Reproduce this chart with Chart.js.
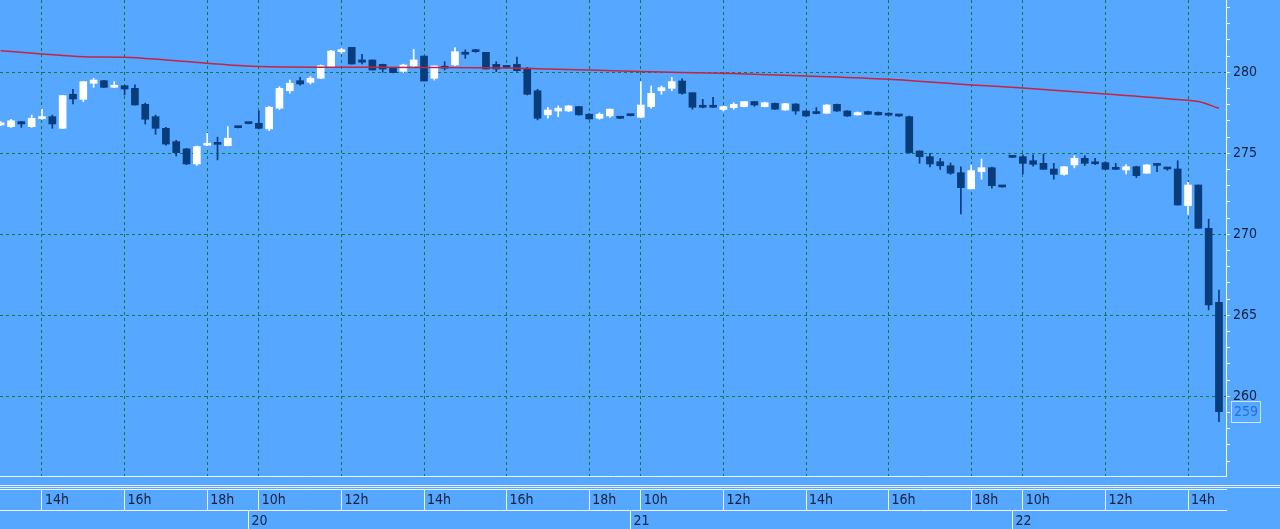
<!DOCTYPE html>
<html><head><meta charset="utf-8">
<script src="https://cdn.jsdelivr.net/npm/chart.js@4/dist/chart.umd.min.js"></script>
<style>
html,body{margin:0;padding:0;background:#55a7ff;overflow:hidden;}
#wrap{width:1280px;height:529px;position:relative;}
</style></head><body>
<div id="wrap"><canvas id="c"></canvas></div>
<script>
// ---- data (15-minute candles, slot index = position on the time axis) ----
const openP = [276.75,276.64,276.95,276.64,277.14,277.26,276.54,278.64,278.33,279.32,
279.48,279.07,279.17,279.01,278.02,277.26,276.54,275.72,275.27,274.34,
275.50,275.62,275.47,276.58,276.83,276.85,276.50,277.78,278.86,279.48,
279.38,279.63,280.35,281.27,281.54,280.76,280.76,280.49,280.28,280.06,
280.39,281.00,279.63,280.35,280.45,281.23,281.38,281.23,280.49,280.32,
280.49,280.25,278.86,277.37,277.61,277.61,277.88,277.41,277.16,277.30,
277.16,277.32,277.22,277.88,278.86,279.01,279.46,278.74,277.96,277.90,
277.70,277.82,277.88,278.19,277.88,278.08,277.67,278.04,277.61,277.55,
277.47,278.02,277.61,277.37,277.57,277.53,277.39,277.30,277.26,275.14,
274.79,274.48,274.23,273.80,272.80,273.87,274.11,272.92,274.75,274.79,
274.54,274.38,274.03,273.70,274.28,274.69,274.40,274.42,274.03,273.97,
274.17,273.77,274.34,274.07,274.03,271.77,273.04,270.37,265.80];
const highP = [276.95,277.10,276.97,277.36,277.72,277.36,278.58,278.95,279.42,279.63,
279.50,279.42,279.20,279.22,278.10,277.36,276.60,275.80,275.30,275.45,
276.23,275.99,276.64,276.60,276.85,277.61,277.90,279.10,279.52,279.69,
279.73,280.45,281.35,281.48,281.54,281.11,280.76,280.50,280.30,280.50,
281.42,281.00,280.40,280.65,281.52,281.38,281.42,281.23,280.65,280.34,
280.93,280.30,278.95,277.84,277.92,277.95,277.90,277.45,277.50,277.75,
277.18,277.34,279.42,279.15,279.15,279.69,279.59,278.74,278.33,278.46,
277.90,278.12,278.20,278.20,278.15,278.10,278.08,278.06,277.63,277.82,
278.00,278.04,277.63,277.55,277.60,277.55,277.50,277.32,277.30,275.15,
275.00,274.69,274.40,274.17,274.28,274.65,274.15,272.94,274.77,274.90,
274.90,274.96,274.38,274.20,274.85,274.85,274.69,274.48,274.38,274.30,
274.20,274.30,274.36,274.08,274.54,273.20,273.04,270.93,266.56];
const lowP = [276.70,276.60,276.60,276.60,277.10,276.54,276.52,278.04,278.19,279.07,
279.05,279.05,278.60,277.98,276.80,276.17,275.50,274.83,274.30,274.25,
275.45,274.59,275.45,276.56,276.81,276.50,276.40,277.70,278.70,279.20,
279.28,279.60,280.30,281.17,280.51,280.51,280.14,280.00,279.96,279.98,
280.35,279.46,279.52,280.14,280.40,280.86,281.23,280.20,280.04,280.28,
280.05,278.60,277.06,277.16,277.26,277.58,277.35,277.10,277.10,277.22,
277.14,277.30,277.20,277.78,278.64,278.86,278.64,277.72,277.80,277.82,
277.60,277.72,277.86,277.90,277.86,277.70,277.65,277.41,277.28,277.43,
277.45,277.59,277.28,277.35,277.39,277.35,277.33,277.28,275.00,274.38,
274.16,274.00,273.70,271.25,272.80,273.40,272.84,272.90,274.73,273.72,
274.20,274.00,273.40,273.65,274.10,274.25,274.30,274.00,274.00,273.72,
273.50,273.75,273.86,273.95,271.80,271.23,270.37,265.33,258.43];
const closeP = [276.78,277.01,276.81,277.16,277.18,276.81,278.56,278.35,279.42,279.52,
279.07,279.12,278.97,277.98,277.10,276.54,275.57,275.04,274.34,275.41,
275.60,275.55,275.93,276.58,276.83,276.54,277.84,279.01,279.32,279.28,
279.63,280.41,281.31,281.38,280.51,280.62,280.14,280.20,279.98,280.45,
280.76,279.46,280.39,280.25,281.27,281.11,281.27,280.20,280.20,280.30,
280.10,278.64,277.16,277.67,277.78,277.92,277.37,277.12,277.41,277.72,
277.16,277.32,277.98,278.70,279.05,279.42,278.70,277.84,277.84,277.84,
277.88,278.02,278.19,277.98,278.12,277.72,278.06,277.61,277.30,277.45,
277.98,277.61,277.30,277.51,277.41,277.37,277.35,277.30,275.04,274.79,
274.34,274.23,273.77,272.88,273.93,274.11,273.00,272.92,274.75,274.38,
274.32,274.01,273.70,274.17,274.69,274.38,274.35,274.01,274.01,274.17,
273.62,274.28,274.25,274.03,271.81,273.04,270.37,265.64,259.05];

// moving average line (read at sample slots)
const maSlots  = [0,4,8,12,16,20,25,32,40,49,53,57,62,70,78,86,94,99,107,114,116,118];
const maValues = [281.33,281.13,280.96,280.93,280.76,280.56,280.35,280.31,280.30,280.27,280.20,280.14,280.04,279.94,279.77,279.57,279.22,279.03,278.66,278.32,278.19,277.78];

// axis ticks
const hourTickSlots  = [4,12,20,25,33,41,49,57,62,70,78,86,94,99,107,115];
const hourTickLabels = ['14h','16h','18h','10h','12h','14h','16h','18h','10h','12h','14h','16h','18h','10h','12h','14h'];
const dayTickSlots   = [24,61,98];
const dayTickLabels  = ['20','21','22'];
const priceTickLabels = [260,265,270,275,280];

// ---- styling ----
const BG = '#55a7ff', UP = '#ffffff', DOWN = '#083c7a';
const GRID = '#127a3c', AXIS = '#f2f7ff', TXT = '#14213b';
const FONT = {family:'"DejaVu Sans Condensed", "DejaVu Sans", sans-serif', size:14};
const X_MIN = -0.068, X_MAX = 118.68, Y_MIN = 255.08, Y_MAX = 284.46;

const slots = openP.map((_, i) => i);
const colors = slots.map(i => closeP[i] > openP[i] ? UP : DOWN);
const wickData = slots.map(i => ({x: i, y: [lowP[i], highP[i]]}));
const bodyData = slots.map(i => ({x: i, y: [openP[i], closeP[i]]}));
const maData = maSlots.map((s, k) => ({x: s, y: maValues[k]}));

const extras = {
  id: 'extras',
  beforeDraw(chart) {
    const c = chart.ctx;
    c.save(); c.fillStyle = BG; c.fillRect(0, 0, chart.width, chart.height); c.restore();
  },
  afterDraw(chart) {
    const c = chart.ctx;
    c.save();
    c.strokeStyle = '#e4eefc'; c.lineWidth = 1;
    [485.5, 487.5].forEach(y => { c.beginPath(); c.moveTo(0, y); c.lineTo(chart.width, y); c.stroke(); });
    // last price tag
    const last = closeP[closeP.length - 1];
    const y = Math.round(chart.scales.y.getPixelForValue(last));
    c.strokeStyle = '#cfe2ff';
    c.strokeRect(1231.5, y - 10.5, 29, 21);
    c.fillStyle = '#2a6fd6';
    c.font = '14px "DejaVu Sans Condensed", "DejaVu Sans", sans-serif';
    c.textBaseline = 'middle'; c.textAlign = 'left';
    c.fillText(String(Math.round(last)), 1234, y + 0.5);
    c.restore();
  }
};

new Chart(document.getElementById('c'), {
  type: 'bar',
  data: {
    datasets: [
      {type: 'line', data: maData, xAxisID: 'x', yAxisID: 'y', borderColor: '#c4253f', borderWidth: 1.5,
       pointRadius: 0, cubicInterpolationMode: 'monotone', order: 0},
      {data: bodyData, backgroundColor: colors, borderWidth: 0, grouped: false, barPercentage: 1,
       categoryPercentage: 1, maxBarThickness: 7, minBarLength: 2, xAxisID: 'x', yAxisID: 'y', order: 1},
      {data: wickData, backgroundColor: colors, borderWidth: 0, grouped: false, barPercentage: 1,
       categoryPercentage: 1, maxBarThickness: 1, minBarLength: 1, xAxisID: 'x', yAxisID: 'y', order: 2}
    ]
  },
  options: {
    responsive: true, maintainAspectRatio: false, animation: false, devicePixelRatio: 1,
    events: [],
    layout: {padding: 0},
    plugins: {legend: {display: false}, tooltip: {enabled: false}},
    scales: {
      x: {
        type: 'linear', position: 'bottom', weight: 0, min: X_MIN, max: X_MAX, offset: false,
        afterBuildTicks: a => { a.ticks = hourTickSlots.map(v => ({value: v})); },
        afterFit: a => { a.height = 13; a.paddingLeft = 0; a.paddingRight = 0; },
        ticks: {display: false},
        grid: {color: GRID, lineWidth: 1, drawTicks: false, offset: false},
        border: {display: true, color: AXIS, width: 1, dash: [3, 3]}
      },
      xh: {
        type: 'linear', position: 'bottom', weight: 1, min: X_MIN, max: X_MAX, offset: false,
        afterBuildTicks: a => { a.ticks = hourTickSlots.map(v => ({value: v})); },
        afterFit: a => { a.height = 21; a.paddingLeft = 0; a.paddingRight = 0; },
        ticks: {autoSkip: false, maxRotation: 0, align: 'start', labelOffset: 3, padding: -18, color: TXT, font: FONT,
                callback: v => hourTickLabels[hourTickSlots.indexOf(v)]},
        grid: {drawOnChartArea: false, drawTicks: true, tickLength: 21, tickColor: AXIS, color: AXIS, offset: false},
        border: {display: true, color: AXIS, width: 1}
      },
      xd: {
        type: 'linear', position: 'bottom', weight: 2, min: X_MIN, max: X_MAX, offset: false,
        afterBuildTicks: a => { a.ticks = dayTickSlots.map(v => ({value: v})); },
        afterFit: a => { a.height = 19; a.paddingLeft = 0; a.paddingRight = 0; },
        ticks: {autoSkip: false, maxRotation: 0, align: 'start', labelOffset: 3, padding: -16, color: TXT, font: FONT,
                callback: v => dayTickLabels[dayTickSlots.indexOf(v)]},
        grid: {drawOnChartArea: false, drawTicks: true, tickLength: 19, tickColor: AXIS, color: AXIS, offset: false},
        border: {display: true, color: AXIS, width: 1}
      },
      y: {
        type: 'linear', position: 'right', min: Y_MIN, max: Y_MAX, beginAtZero: false,
        afterBuildTicks: a => { const t = []; for (let v = 256; v <= 284; v++) t.push({value: v}); a.ticks = t; },
        afterFit: a => { a.width = 54; a.paddingTop = 0; a.paddingBottom = 0; },
        ticks: {padding: 3, color: TXT, font: FONT, autoSkip: false,
                callback: v => priceTickLabels.includes(v) ? String(v) : ''},
        grid: {color: ctx => priceTickLabels.includes(ctx.tick && ctx.tick.value) ? GRID : 'rgba(0,0,0,0)',
               tickColor: AXIS, tickLength: 4, drawTicks: true},
        border: {display: true, color: AXIS, width: 1, dash: [3, 3]}
      }
    }
  },
  plugins: [extras]
});
</script>
</body></html>
